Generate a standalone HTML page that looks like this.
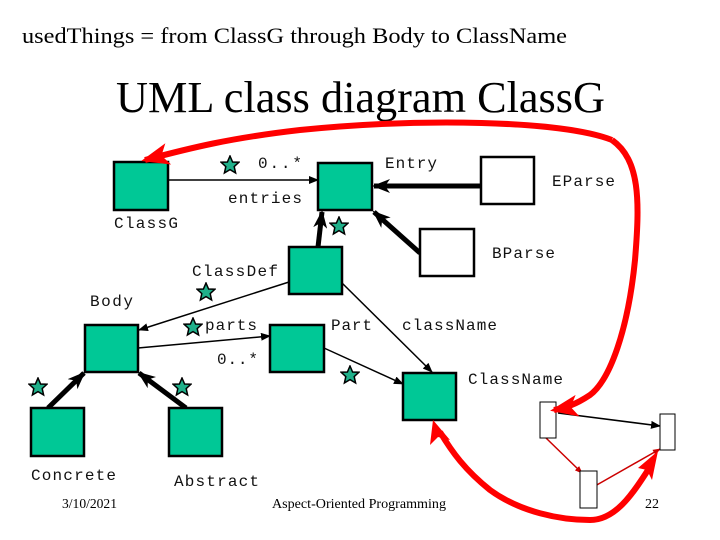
<!DOCTYPE html>
<html><head><meta charset="utf-8"><style>
html,body{margin:0;padding:0;background:#fff;}
svg{display:block}
.m{font-family:"Liberation Mono",monospace;font-size:16px;fill:#111}
.s{font-family:"Liberation Serif",serif;fill:#000}
.g{fill:#00c896;stroke:#000;stroke-width:2.5}
.w{fill:#fff;stroke:#000;stroke-width:2.5}
.st{fill:#1fb08a;stroke:#000;stroke-width:1.5}
</style></head><body>
<svg width="720" height="540" viewBox="0 0 720 540">
<defs>
<marker id="a" markerWidth="10" markerHeight="8" refX="9" refY="4" orient="auto" markerUnits="userSpaceOnUse"><path d="M0,0 L10,4 L0,8 z" fill="#000"/></marker>
<marker id="ab" markerWidth="18" markerHeight="14" refX="16" refY="7" orient="auto" markerUnits="userSpaceOnUse"><path d="M0,0 L18,7 L0,14 L5,7 z" fill="#000"/></marker>
<marker id="r" markerWidth="28" markerHeight="22" refX="24" refY="11" orient="auto" markerUnits="userSpaceOnUse"><path d="M0,0 L28,11 L0,22 L7,11 z" fill="#f00"/></marker>
<marker id="rs" markerWidth="8" markerHeight="6" refX="7" refY="3" orient="auto" markerUnits="userSpaceOnUse"><path d="M0,0 L8,3 L0,6 z" fill="#c00"/></marker>
<symbol id="star" viewBox="-10 -10 20 20"><path d="M0,-9 L2.6,-3 L9,-2.8 L4.2,1.6 L5.6,8 L0,4.6 L-5.6,8 L-4.2,1.6 L-9,-2.8 L-2.6,-3 z" class="st"/></symbol>
</defs>

<text class="s" x="22" y="43" font-size="22" textLength="545" lengthAdjust="spacingAndGlyphs">usedThings = from ClassG through Body to ClassName</text>
<text class="s" x="116" y="112" font-size="44" textLength="489" lengthAdjust="spacingAndGlyphs">UML class diagram ClassG</text>

<line x1="168" y1="180" x2="318" y2="180" stroke="#000" stroke-width="1.5" marker-end="url(#a)"/>
<line x1="481" y1="186" x2="374" y2="186" stroke="#000" stroke-width="5" marker-end="url(#ab)"/>
<line x1="420" y1="253" x2="374" y2="212" stroke="#000" stroke-width="5" marker-end="url(#ab)"/>
<line x1="318" y1="247" x2="322" y2="212" stroke="#000" stroke-width="5" marker-end="url(#ab)"/>
<line x1="289" y1="282" x2="139" y2="330" stroke="#000" stroke-width="1.5" marker-end="url(#a)"/>
<line x1="138" y1="348" x2="270" y2="336" stroke="#000" stroke-width="1.5" marker-end="url(#a)"/>
<line x1="342" y1="283" x2="432" y2="372" stroke="#000" stroke-width="1.5" marker-end="url(#a)"/>
<line x1="324" y1="348" x2="403" y2="384" stroke="#000" stroke-width="1.5" marker-end="url(#a)"/>
<line x1="48" y1="408" x2="84" y2="373" stroke="#000" stroke-width="5" marker-end="url(#ab)"/>
<line x1="186" y1="408" x2="139" y2="373" stroke="#000" stroke-width="5" marker-end="url(#ab)"/>
<line x1="558" y1="413" x2="660" y2="426" stroke="#000" stroke-width="1.5" marker-end="url(#a)"/>
<line x1="546" y1="438" x2="582" y2="473" stroke="#c00" stroke-width="1.5" marker-end="url(#rs)"/>
<line x1="595" y1="486" x2="660" y2="449" stroke="#c00" stroke-width="1.5" marker-end="url(#rs)"/>

<rect class="g" x="114" y="162" width="54" height="48"/>
<rect class="g" x="318" y="163" width="54" height="47"/>
<rect class="g" x="289" y="247" width="53" height="47"/>
<rect class="w" x="481" y="157" width="53" height="47"/>
<rect class="w" x="420" y="229" width="54" height="47"/>
<rect class="g" x="403" y="373" width="53" height="47"/>
<rect class="g" x="85" y="325" width="53" height="47"/>
<rect class="g" x="270" y="325" width="54" height="47"/>
<rect class="g" x="31" y="408" width="53" height="48"/>
<rect class="g" x="169" y="408" width="53" height="48"/>
<rect x="540" y="402" width="16" height="36" fill="#fff" stroke="#000" stroke-width="1"/>
<rect x="660" y="414" width="15" height="36" fill="#fff" stroke="#000" stroke-width="1"/>
<rect x="580" y="471" width="17" height="37" fill="#fff" stroke="#000" stroke-width="1"/>

<path d="M612,140 C560,120 420,118 300,130 C230,138 190,148 145,160" fill="none" stroke="#f00" stroke-width="6" marker-end="url(#r)"/>
<path d="M612,140 C640,160 640,200 635,260 C628,330 610,380 590,395 C575,405 565,408 554,410" fill="none" stroke="#f00" stroke-width="6" marker-end="url(#r)"/>
<path d="M440,432 C452,452 465,470 490,490 C520,512 560,520 590,520 C615,520 632,495 648,470" fill="none" stroke="#f00" stroke-width="6"/>
<polygon points="658,451 638,468 647,470 652,480" fill="#f00"/>
<polygon points="433,420 430,445 438,437 450,440" fill="#f00"/>

<use href="#star" x="220" y="155" width="20" height="20"/>
<use href="#star" x="329" y="216" width="20" height="20"/>
<use href="#star" x="196" y="282" width="20" height="20"/>
<use href="#star" x="183" y="317" width="20" height="20"/>
<use href="#star" x="28" y="377" width="20" height="20"/>
<use href="#star" x="172" y="377" width="20" height="20"/>
<use href="#star" x="340" y="365" width="20" height="20"/>

<text class="m" x="258" y="168" textLength="44">0..*</text>
<text class="m" x="385" y="168" textLength="52">Entry</text>
<text class="m" x="552" y="186" textLength="63">EParse</text>
<text class="m" x="228" y="203" textLength="74">entries</text>
<text class="m" x="114" y="228" textLength="64">ClassG</text>
<text class="m" x="492" y="258" textLength="63">BParse</text>
<text class="m" x="192" y="276" textLength="86">ClassDef</text>
<text class="m" x="90" y="306" textLength="43">Body</text>
<text class="m" x="205" y="330" textLength="52">parts</text>
<text class="m" x="331" y="330" textLength="41">Part</text>
<text class="m" x="402" y="330" textLength="95">className</text>
<text class="m" x="217" y="364" textLength="41">0..*</text>
<text class="m" x="468" y="384" textLength="95">ClassName</text>
<text class="m" x="31" y="480" textLength="85">Concrete</text>
<text class="m" x="174" y="486" textLength="85">Abstract</text>
<text class="s" x="62" y="508" font-size="14" textLength="55" lengthAdjust="spacingAndGlyphs">3/10/2021</text>
<text class="s" x="272" y="508" font-size="14" textLength="174" lengthAdjust="spacingAndGlyphs">Aspect-Oriented Programming</text>
<text class="s" x="645" y="508" font-size="14" textLength="14" lengthAdjust="spacingAndGlyphs">22</text>
</svg>
</body></html>
